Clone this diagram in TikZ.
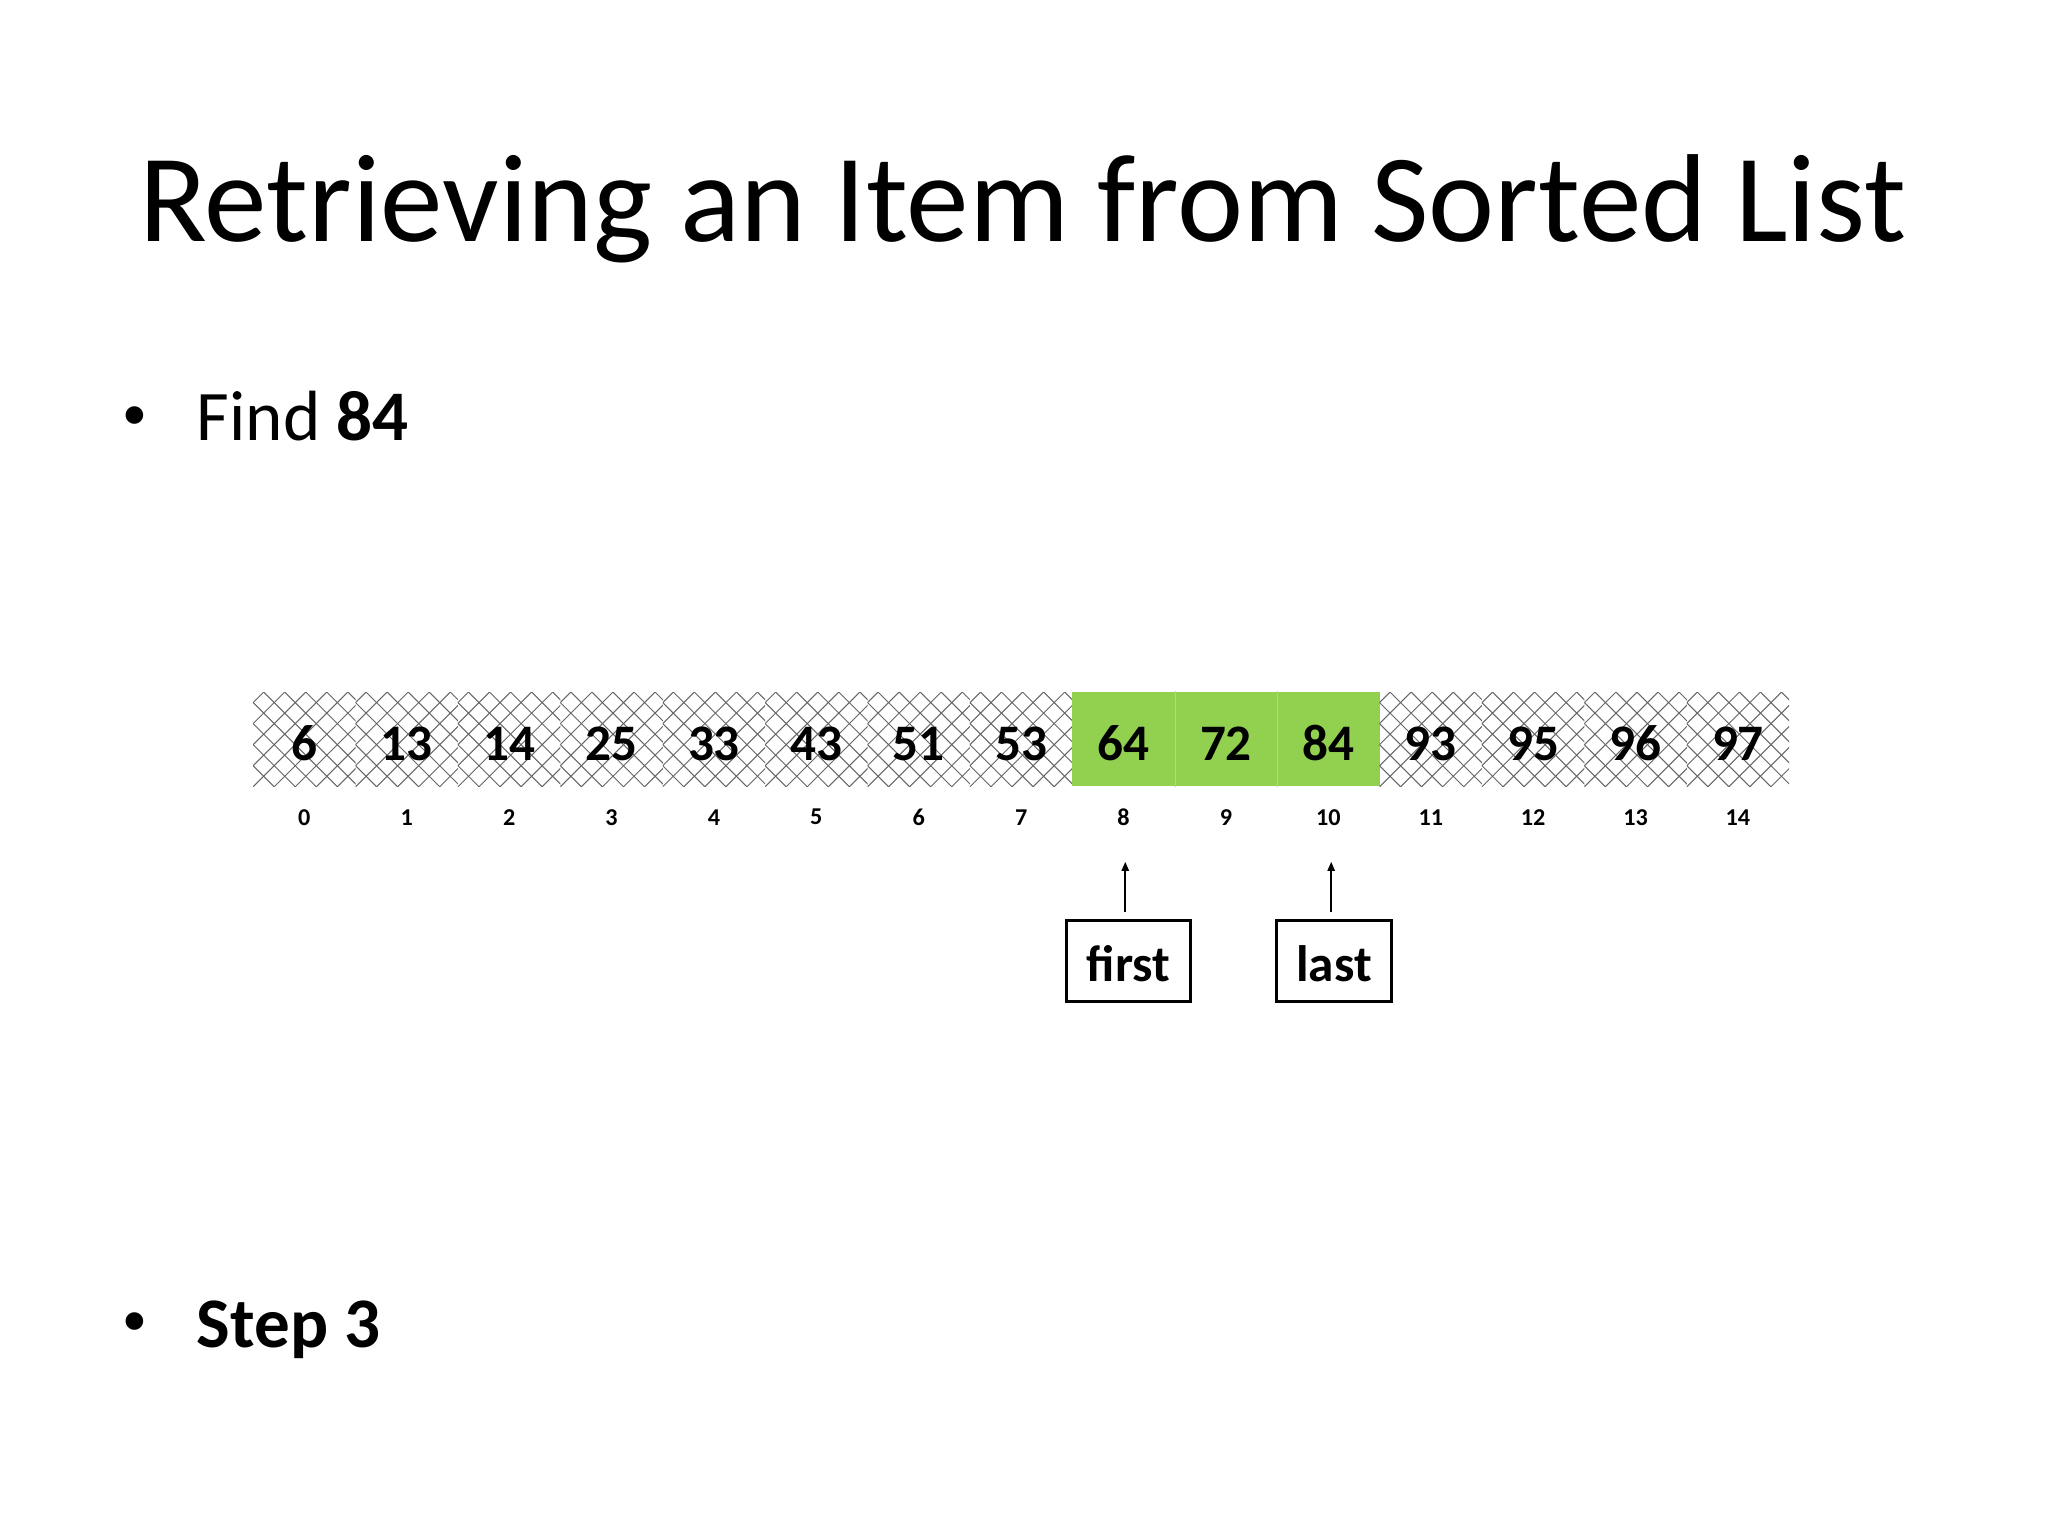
\documentclass[tikz,border=0pt]{standalone}
\usepackage{fontspec}
\setmainfont{Carlito}
\usetikzlibrary{arrows.meta,calc}
\definecolor{hl}{HTML}{92D050}
\definecolor{hatchc}{HTML}{666666}
\tikzset{
  cell/.style={minimum width=36pt,minimum height=33.1pt,inner sep=0pt,
    text height=14.7pt,text depth=0pt,
    font=\fontsize{18}{20}\selectfont\bfseries},
  hatched/.style={path picture={
    \foreach \k in {-5,...,14}{
      \draw[hatchc,line width=0.35pt] ($(path picture bounding box.north west)+(\k*7.4-3.7,0)$) -- ++(40,40);
      \draw[hatchc,line width=0.35pt] ($(path picture bounding box.north west)+(\k*7.4-3.7,0)$) -- ++(-40,40);
    }}},
  hlcell/.style={fill=hl},
  idx/.style={inner sep=0pt,font=\fontsize{8.5}{9}\selectfont\bfseries},
  ptrbox/.style={draw,line width=1pt,minimum height=28.6pt,inner sep=0pt,
    text height=14.6pt,text depth=0pt,
    font=\fontsize{18}{20}\selectfont\bfseries},
  arr/.style={-{Triangle[length=3.2pt,width=2.6pt]},line width=0.6pt},
  bodytext/.style={inner sep=0pt,anchor=base west,font=\fontsize{25}{30}\selectfont},
  bul/.style={inner sep=0pt,anchor=base,font=\fontsize{17.5}{20}\selectfont},
}
\begin{document}
\begin{tikzpicture}[x=1pt,y=-1pt]
\useasboundingbox[fill=white] (0,0) rectangle (720,540);
% title
\node[inner sep=0pt,anchor=base,font=\fontsize{44}{50}\selectfont] (title) at (359.5,85) {Retrieving an Item from Sorted List};
% bullets
\node[bul] (b1) at (47.3,151) {•};
\node[bodytext] (t1) at (69,155) {Find \textbf{84}};
\node[bul] (b2) at (47.3,469.6) {•};
\node[bodytext] (t2) at (69,473.6) {\textbf{Step 3}};
% array cells
\foreach \v [count=\i from 0] in {6,13,14,25,33,43,51,53,64,72,84,93,95,96,97}{
  \ifnum\i<8
    \node[cell,hatched] (c\i) at (107+36*\i,259.85) {\v};
  \else\ifnum\i>10
    \node[cell,hatched] (c\i) at (107+36*\i,259.85) {\v};
  \else
    \node[cell,hlcell] (c\i) at (107+36*\i,259.85) {\v};
  \fi\fi
  \node[idx] (i\i) at (107+36*\i,287.3) {\i};
}
\draw[hl!75!white,line width=0.4pt] (c8.north east) -- (c8.south east);
\draw[hl!75!white,line width=0.4pt] (c9.north east) -- (c9.south east);
% pointer boxes
\node[ptrbox,minimum width=43.6pt] (first) at (396.8,337.9) {first};
\node[ptrbox,minimum width=40.5pt] (last) at (469,337.9) {last};
\coordinate (ftail) at (395.6,320.7);
\coordinate (ftip) at (395.6,303);
\coordinate (ltail) at (468,320.7);
\coordinate (ltip) at (468,303);
\draw[arr] (ftail) -- (ftip);
\draw[arr] (ltail) -- (ltip);
\end{tikzpicture}
\end{document}
